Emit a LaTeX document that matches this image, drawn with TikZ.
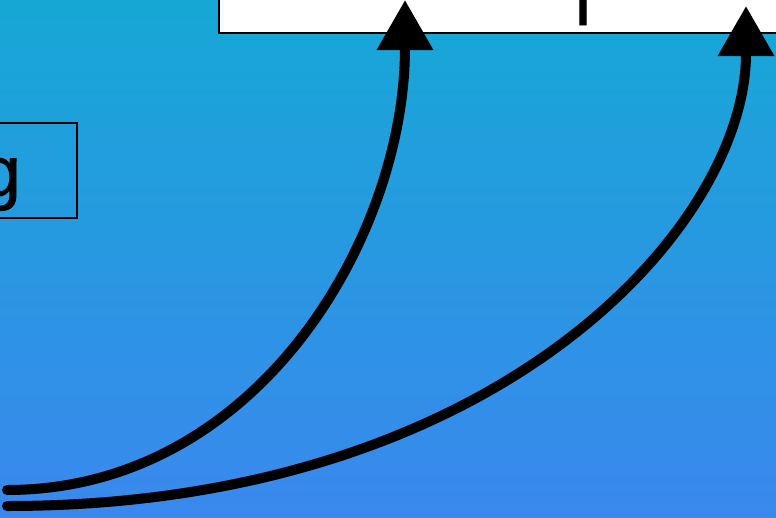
\documentclass[tikz,border=0pt]{standalone}
\usepackage{fontspec}
\setmainfont{Liberation Sans}
\newfontfamily\labelfont[FakeBold=1.2]{Liberation Sans}
\usetikzlibrary{arrows.meta}
\definecolor{topc}{RGB}{22,168,213}
\definecolor{botc}{RGB}{58,136,238}
\tikzset{
  boxline/.style={draw=black, line width=2pt},
  boxtext/.style={inner sep=0pt, font=\labelfont\fontsize{71}{76}\selectfont},
  flow/.style={line width=10pt, line cap=round, -{Triangle[length=50pt,width=54pt]}},
}
\begin{document}
\begin{tikzpicture}[x=1pt,y=-1pt]
\useasboundingbox (0,0) rectangle (776,517);
\clip (0,0) rectangle (776,517);
\shade[top color=topc, bottom color=botc] (0,0) rectangle (776,517);
% top box (cropped)
\node[boxline, fill=white, minimum width=580pt, minimum height=60pt, anchor=south west, inner sep=0pt] (topbox) at (218,34) {};
\node[boxtext, anchor=base] (toptext) at (583,25) {l};
% left box (cropped)
\node[boxline, minimum width=100pt, minimum height=95pt, anchor=north east, inner sep=0pt] (leftbox) at (78,122) {};
\node[boxtext, anchor=base east] (lefttext) at (21,196) {g};
% arrows
\coordinate (s1) at (7,490);
\coordinate (s2) at (7,506);
\coordinate (e1) at (405,0);
\coordinate (e2) at (746,6);
\draw[flow] (s1) .. controls (258,490) and (405,236) .. (e1);
\draw[flow] (s2) .. controls (498,506) and (746,226) .. (e2);
\end{tikzpicture}
\end{document}
